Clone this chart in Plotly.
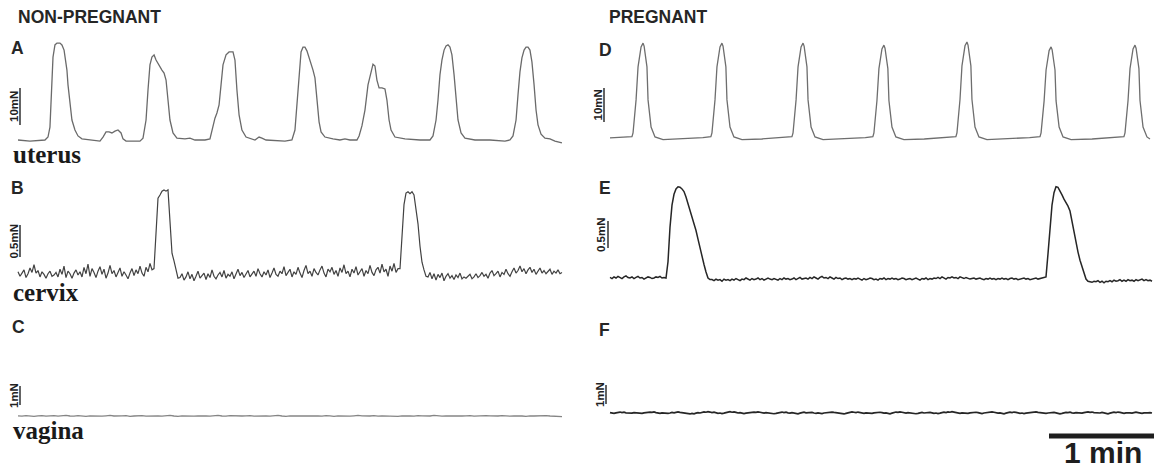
import numpy as np
import plotly.graph_objects as go

# ---------------- DATA (time in s, force in mN) ----------------
DT = 1.12
DT_C = 2.24    # coarser sampling for the flat vaginal trace (s)

# A: non-pregnant uterus (knots)
A_time = [0, 6.7, 15.1, 16.8, 17.9, 19.0, 19.6, 20.7, 21.8, 23.5, 24.6, 25.8, 26.9, 27.4, 28.0, 29.1,
          30.2, 31.9, 33.6, 35.8, 45.9, 47.6, 49.3, 51.0, 52.6, 54.3, 56.0, 57.7, 58.8, 60.5, 68.3,
          70.0, 71.7, 72.8, 73.9, 75.0, 76.2, 77.3, 79.0, 80.6, 81.8, 82.9, 84.0, 85.1, 86.8, 89.0,
          93.5, 96.3, 99.1, 104.7, 107.5, 109.2, 110.3, 111.4, 112.6, 113.7, 114.8, 116.5, 118.2,
          120.4, 121.5, 122.6, 123.8, 125.4, 127.7, 132.7, 135.0, 136.6, 138.9, 149.5, 153.4, 155.1,
          156.2, 157.4, 158.5, 159.6, 160.7, 161.8, 163.5, 165.2, 166.3, 167.4, 168.6, 169.7, 171.9,
          176.4, 180.3, 183.1, 185.9, 189.8, 191.0, 192.6, 194.3, 196.0, 197.7, 198.8, 199.9, 201.0,
          202.2, 203.8, 205.5, 206.6, 207.8, 208.9, 211.1, 216.7, 225.1, 230.7, 232.4, 234.1, 235.2,
          236.3, 237.4, 238.6, 239.7, 240.8, 241.9, 243.0, 244.2, 245.3, 246.4, 248.1, 250.3, 255.9,
          264.3, 272.7, 275.5, 277.2, 278.9, 280.0, 281.1, 282.2, 283.4, 284.5, 285.6, 286.7, 287.8,
          289.0, 290.1, 291.2, 292.9, 295.1, 297.9, 300.7, 304.6]
A_force = [0, -0.3, 0, 0.8, 3.5, 14.9, 22.4, 25.7, 26.2, 26.2, 25.7, 24.3, 21.1, 18.9, 14.9, 10.8,
           5.4, 2.7, 1.1, 0.3, -0.3, 0.8, 2.2, 2.2, 1.9, 2.4, 2.7, 1.9, 0.3, -0.3, -0.3,
           0.5, 5.4, 13.5, 20.3, 22.4, 23.0, 21.6, 20.0, 18.9, 18.1, 16.2, 10.8, 5.4, 1.9, 0.5,
           0.3, 0.5, 0, 0, 0.3, 4.1, 5.9, 7.3, 9.5, 14.9, 20.3, 23.0, 23.8,
           23.8, 21.6, 13.5, 6.8, 2.7, 0.8, 0, 0.8, 0.5, 0, -0.3, 0, 2.7,
           9.5, 17.6, 23.8, 25.1, 25.1, 24.1, 21.6, 18.9, 16.8, 10.8, 4.9, 2.2, 0.8,
           0.3, 0, 0.3, 0, 0, 1.1, 3.8, 8.1, 14.9, 18.9, 20.5, 20.0, 16.2,
           14.1, 14.1, 13.8, 10.8, 5.4, 2.7, 0.8, 0.3, 0, 0, 1.1, 5.4, 10.8,
           17.6, 21.6, 24.3, 25.4, 25.7, 25.1, 23.0, 17.6, 10.8, 5.4, 1.9, 0.5, 0,
           0, -0.3, 0, 1.1, 5.4, 12.2, 18.4, 22.2, 24.3, 25.1, 25.1, 24.3, 21.1,
           14.9, 8.1, 4.1, 1.6, 0.5, 0.3, -0.3, -0.8]

# B: non-pregnant cervix (sampled every DT)
B_noise_1 = [0.05, -0.02, 0.03, 0.08, -0.04, 0.02, 0.11, 0.04, 0.16, 0.03,
             0.07, -0.03, 0.05, 0.01, -0.05, 0.02, 0.06, -0.02, 0.00, 0.04,
             -0.03, 0.09, 0.01, 0.14, -0.04, 0.06, 0.02, -0.05, 0.03, 0.08,
             0.00, 0.05, -0.03, 0.12, 0.02, 0.17, -0.02, 0.10, 0.04, -0.04,
             0.06, 0.13, 0.01, 0.09, -0.05, 0.03, 0.15, 0.02, 0.07, -0.03,
             0.04, 0.11, -0.02, 0.05, 0.00, -0.06, 0.03, 0.10, -0.01, 0.08,
             0.02, 0.14, 0.03, -0.02, 0.12, 0.05, 0.18, 0.08]
B_peak_1 = [0.10, 0.70, 1.20, 1.25, 1.31, 1.33, 1.31, 1.33, 0.90, 0.34, 0.22, 0.10, -0.05]
B_noise_2 = [-0.04, 0.02, -0.08, -0.03, 0.05, -0.06, 0.01, -0.09, -0.02, 0.06,
             -0.05, -0.01, 0.03, -0.07, 0.02, -0.04, 0.08, -0.02, -0.06, 0.00,
             0.04, -0.03, 0.07, -0.05, 0.01, -0.02, 0.05, -0.06, 0.03, 0.09,
             -0.01, 0.04, -0.04, 0.02, 0.07, -0.03, 0.01, 0.06, -0.02, 0.10,
             0.02, -0.03, 0.05, 0.00, 0.08, -0.04, 0.03, 0.11, 0.01, -0.02,
             0.06, 0.02, 0.13, -0.01, 0.04, 0.09, -0.03, 0.05, 0.01, 0.12,
             0.03, -0.04, 0.07, 0.15, 0.02, 0.06, -0.02, 0.10, 0.04, 0.00,
             0.08, 0.14, 0.03, -0.03, 0.09, 0.05, 0.12, 0.01, 0.07, -0.02,
             0.11, 0.04, 0.16, 0.02, 0.06, -0.03, 0.09, 0.03, 0.13, 0.00,
             0.05, 0.10, -0.02, 0.07, 0.02, 0.15, 0.04, -0.01, 0.08, 0.12,
             0.03, 0.17, 0.05, 0.09, -0.02, 0.14, 0.06, 0.18, 0.04, 0.10]
B_peak_2 = [0.10, 0.60, 1.10, 1.28, 1.30, 1.27, 1.30, 1.25, 1.05, 0.80, 0.45, 0.20, 0.08, -0.02]
B_noise_3 = [-0.03, 0.04, -0.06, 0.02, -0.08, 0.01, -0.04, 0.03, -0.09, -0.02,
             0.02, -0.05, -0.01, -0.07, 0.00, -0.04, 0.03, -0.06, -0.03, -0.05,
             -0.02, 0.01, -0.06, -0.03, 0.02, -0.04, -0.01, 0.04, -0.02, 0.01,
             -0.05, 0.03, 0.07, -0.01, 0.02, 0.06, -0.03, 0.04, 0.01, 0.09,
             0.02, -0.02, 0.05, 0.11, 0.03, 0.07, 0.14, 0.05, 0.10, 0.02,
             0.08, 0.12, 0.04, 0.09, 0.01, 0.06, 0.11, 0.03, 0.07, 0.02,
             0.05, 0.09, 0.01, 0.06, 0.03, 0.08, 0.02, 0.04]

# C: non-pregnant vagina (sampled every DT_C)
C_force = [0.01, -0.01, 0.02, 0.00, -0.02, 0.01, 0.02, -0.01, 0.00, 0.02,
           -0.01, 0.01, 0.03, 0.00, -0.01, 0.02, 0.00, -0.02, 0.01, 0.00,
           0.02, -0.01, 0.01, 0.03, 0.00, -0.01, 0.01, 0.02, -0.02, 0.00,
           0.01, 0.02, -0.01, 0.00, 0.02, 0.01, -0.01, 0.01, 0.03, 0.00,
           -0.02, 0.01, 0.00, 0.02, -0.01, 0.01, 0.02, 0.00, -0.01, 0.01,
           0.03, 0.00, -0.01, 0.02, 0.01, -0.02, 0.00, 0.01, 0.02, -0.01,
           0.00, 0.02, 0.01, -0.01, 0.01, 0.03, 0.00, -0.02, 0.01, 0.00,
           0.02, -0.01, 0.00, 0.01, 0.02, 0.00, -0.01, 0.02, 0.01, -0.02,
           0.01, 0.00, 0.02, -0.01, 0.01, 0.03, 0.01, -0.01, 0.00, 0.02,
           -0.01, 0.01, 0.00, 0.02, 0.00, -0.02, 0.01, 0.02, 0.00, -0.01,
           0.02, 0.01, -0.01, 0.00, 0.03, 0.01, -0.01, 0.01, 0.00, 0.02,
           -0.02, 0.00, 0.01, 0.02, -0.01, 0.01, 0.00, 0.02, 0.01, -0.01,
           0.00, 0.02, 0.00, -0.01, 0.01, 0.02, 0.00, -0.02, 0.01, 0.00,
           0.01, -0.01, 0.02, 0.00, -0.01, -0.02, -0.03]

# D: pregnant uterus (knots)
D_time = [0, 12.3, 12.9, 14.6, 15.7, 17.4, 18.5, 19.1, 20.7, 21.3, 23.0, 25.2, 29.7, 41.0, 52.0,
          56.5, 57.1, 58.8, 59.9, 61.6, 62.7, 63.3, 64.9, 65.5, 67.2, 69.4, 73.9, 85.0, 97.0,
          101.9, 102.5, 104.2, 105.3, 107.0, 108.1, 108.7, 110.3, 110.9, 112.6, 114.8, 119.3, 131.0, 143.0,
          147.2, 147.8, 149.5, 150.6, 152.3, 153.4, 154.0, 155.6, 156.2, 157.9, 160.1, 164.6, 176.0, 188.0,
          193.7, 194.3, 196.0, 197.1, 198.8, 199.9, 200.5, 202.1, 202.7, 204.4, 206.6, 211.1, 223.0, 235.0,
          240.8, 241.4, 243.1, 244.2, 245.9, 247.0, 247.6, 249.2, 249.8, 251.5, 253.7, 258.2, 270.0, 282.0,
          287.8, 288.4, 290.1, 291.2, 292.9, 294.0, 294.6, 296.2, 296.8, 298.5, 300.7, 302.4]
D_force = [0.6, 1.0, 2.1, 11.8, 21.5, 27.4, 28.5, 27.6, 21.5, 11.8, 3.8, 0.9, 0.1, 0.3, 0.7,
           1.0, 2.1, 11.8, 21.5, 27.4, 28.5, 27.6, 21.5, 11.8, 3.8, 0.9, 0.1, 0.3, 0.7,
           1.0, 2.1, 11.8, 21.5, 27.4, 28.5, 27.6, 21.5, 11.8, 3.8, 0.9, 0.1, 0.3, 0.7,
           1.0, 2.1, 11.6, 21.0, 26.8, 27.9, 27.0, 21.0, 11.6, 3.8, 0.9, 0.1, 0.3, 0.7,
           1.0, 2.1, 11.9, 21.8, 27.7, 28.8, 27.9, 21.8, 11.9, 3.8, 0.9, 0.1, 0.3, 0.7,
           1.0, 2.1, 11.5, 20.6, 26.3, 27.4, 26.5, 20.6, 11.5, 3.8, 0.9, 0.1, 0.3, 0.7,
           1.0, 2.1, 11.6, 21.0, 26.8, 27.9, 27.0, 21.0, 11.6, 3.8, 0.9, 0.3]

# E: pregnant cervix (sampled every DT)
E_noise_1 = [0.01, -0.01, 0.02, 0.00, 0.03, 0.01, -0.01, 0.02, 0.04, 0.01,
             0.00, 0.02, -0.01, 0.01, 0.03, 0.00, 0.01, -0.02, 0.00, 0.02,
             0.01, -0.01, 0.00, 0.02, 0.01, 0.03, 0.00, 0.01]
E_peak_1 = [0.00, 0.30, 0.94, 1.35, 1.55, 1.65, 1.69, 1.68, 1.65, 1.60, 1.50, 1.38, 1.26, 1.13,
            1.00, 0.88, 0.72, 0.55, 0.40, 0.25, 0.11, 0.00, -0.03]
E_noise_2 = [-0.03, -0.05, -0.02, -0.04, -0.03, -0.06, -0.02, -0.04, -0.03, -0.05,
             -0.02, -0.04, -0.01, -0.03, -0.05, -0.02, -0.03, 0.00, -0.02, -0.04,
             -0.01, -0.03, -0.02, 0.00, -0.03, -0.01, -0.04, -0.02, 0.00, -0.02,
             -0.03, -0.01, -0.02, -0.04, -0.01, -0.03, 0.00, -0.02, -0.01, -0.03,
             -0.02, 0.00, -0.03, -0.01, 0.01, -0.02, -0.01, 0.00, -0.02, 0.01,
             -0.01, 0.02, 0.00, -0.02, 0.01, 0.03, 0.00, 0.01, -0.01, 0.02,
             0.00, -0.02, 0.01, -0.01, 0.00, -0.03, -0.01, 0.00, -0.02, -0.01,
             -0.03, -0.01, -0.02, 0.00, -0.02, -0.04, -0.01, -0.03, -0.02, 0.00,
             -0.01, -0.03, -0.02, -0.04, -0.01, -0.02, 0.00, -0.03, -0.01, -0.02,
             0.00, -0.02, -0.01, -0.03, -0.02, 0.00, -0.01, -0.03, -0.02, -0.01,
             -0.03, -0.01, 0.00, -0.02, -0.04, -0.01, -0.02, 0.00, -0.03, -0.01,
             -0.02, 0.00, -0.01, 0.01, -0.01, 0.02, 0.00, -0.02, 0.01, 0.00,
             0.02, 0.00, 0.01, -0.01, 0.02, 0.00, -0.01, 0.01, 0.00, -0.02,
             -0.01, 0.00, -0.02, -0.01, 0.00, -0.02, -0.03, -0.01, -0.02, 0.00,
             -0.02, -0.01, -0.03, -0.01, -0.02, 0.00, -0.02, -0.01, -0.03, -0.01,
             0.00, -0.02, -0.01, -0.03, -0.02, -0.01, 0.00, -0.02, -0.01, -0.03,
             -0.02, -0.01, 0.00, -0.02, -0.01, 0.00, 0.01]
E_peak_2 = [0.02, 0.45, 0.94, 1.35, 1.58, 1.69, 1.68, 1.62, 1.54, 1.46, 1.40, 1.33, 1.24, 1.05,
            0.82, 0.62, 0.48, 0.33, 0.20, 0.06, -0.02, -0.06, -0.07]
E_noise_3 = [-0.08, -0.06, -0.07, -0.05, -0.08, -0.06, -0.09, -0.06, -0.07, -0.05,
             -0.07, -0.04, -0.06, -0.05, -0.03, -0.06, -0.04, -0.06, -0.03, -0.05,
             -0.04, -0.06, -0.03, -0.05, -0.04, -0.02, -0.05, -0.03, -0.05, -0.04, -0.06]

# F: pregnant vagina (sampled every DT)
F_force = [0.02, 0.00, -0.02, 0.01, 0.03, 0.05, 0.02, 0.04, 0.01, -0.01,
           -0.03, -0.01, 0.02, 0.00, -0.02, -0.04, -0.02, 0.01, 0.03, 0.02,
           0.05, 0.03, 0.06, 0.02, 0.00, -0.02, 0.01, -0.01, -0.04, -0.02,
           0.00, 0.03, 0.01, 0.04, 0.06, 0.03, 0.01, -0.02, 0.00, -0.03,
           -0.05, -0.02, -0.04, -0.01, 0.02, 0.00, 0.03, 0.06, 0.04, 0.07,
           0.05, 0.02, 0.04, 0.01, -0.02, 0.00, -0.03, -0.01, 0.02, 0.04,
           0.07, 0.04, 0.06, 0.03, 0.00, 0.02, -0.01, -0.03, -0.01, 0.01,
           0.04, 0.02, 0.05, 0.03, 0.06, 0.04, 0.01, -0.01, 0.02, 0.00,
           -0.03, -0.01, -0.04, -0.02, 0.01, 0.03, 0.05, 0.02, 0.04, 0.01,
           -0.01, 0.02, 0.00, -0.02, -0.04, -0.01, 0.02, 0.04, 0.01, 0.03,
           0.05, 0.03, 0.00, -0.02, 0.01, -0.01, -0.03, 0.00, 0.02, 0.04,
           0.02, 0.05, 0.03, 0.01, -0.02, 0.00, -0.03, -0.05, -0.02, 0.01,
           0.03, 0.06, 0.04, 0.02, 0.05, 0.03, 0.00, -0.02, 0.01, -0.01,
           -0.04, -0.02, 0.01, 0.03, 0.01, 0.04, 0.02, -0.01, 0.01, -0.02,
           -0.04, -0.01, 0.02, 0.05, 0.03, 0.06, 0.04, 0.01, -0.01, 0.02,
           0.00, -0.03, -0.01, -0.04, -0.02, 0.01, 0.03, 0.00, 0.02, 0.05,
           0.03, 0.01, -0.02, 0.00, -0.03, -0.01, 0.02, 0.04, 0.02, 0.06,
           0.04, 0.07, 0.05, 0.02, 0.00, -0.02, 0.01, -0.01, -0.04, -0.02,
           0.01, 0.03, 0.01, 0.04, 0.02, -0.01, -0.03, 0.00, 0.02, 0.05,
           0.03, 0.06, 0.04, 0.01, -0.01, 0.01, -0.02, -0.04, -0.01, 0.02,
           0.04, 0.02, 0.05, 0.03, 0.00, -0.02, 0.00, -0.03, -0.01, 0.01,
           0.03, 0.01, 0.04, 0.06, 0.03, 0.01, -0.01, 0.01, -0.02, 0.00,
           0.02, 0.05, 0.03, 0.01, -0.02, -0.04, -0.02, 0.01, 0.03, 0.02,
           0.04, 0.01, -0.01, 0.02, 0.00, -0.03, -0.01, 0.02, 0.04, 0.06,
           0.03, 0.05, 0.02, 0.00, -0.02, 0.00, 0.03, 0.01, -0.02, -0.04,
           -0.01, 0.02, 0.04, 0.02, 0.05, 0.03, 0.00, -0.02, 0.01, 0.03,
           0.01, -0.01, 0.02, 0.04, 0.02, 0.00, -0.02, 0.01, 0.03, 0.01,
           0.02, 0.00]

SCALE_LABELS = ["10mN", "0.5mN", "1mN", "10mN", "0.5mN", "1mN"]
SCALE_AMPS = [10, 0.5, 1, 10, 0.5, 1]
PANEL_LETTERS = ["A", "B", "C", "D", "E", "F"]
ORGANS = ["uterus", "cervix", "vagina"]
TIME_BAR_S = 60

# ---------------- assemble series ----------------
B_force = B_noise_1 + B_peak_1 + B_noise_2 + B_peak_2 + B_noise_3
E_force = E_noise_1 + E_peak_1 + E_noise_2 + E_peak_2 + E_noise_3
B_time = np.arange(len(B_force)) * DT
C_time = np.arange(len(C_force)) * DT_C
E_time = np.arange(len(E_force)) * DT
F_time = np.arange(len(F_force)) * DT

series = [(A_time, A_force), (B_time, B_force), (C_time, C_force),
          (D_time, D_force), (E_time, E_force), (F_time, F_force)]

# ---------------- layout geometry (pixels) ----------------
W, H = 1154, 471
SPX = 0.56  # seconds per pixel
cols = [dict(d0=0, d1=577, t0px=18), dict(d0=577, d1=W, t0px=610)]
# baseline px, px per mN, band top, band bottom
rows = [
    dict(base=140, ppu=3.7, top=25, bot=165),
    dict(base=275, ppu=64, top=165, bot=310),
    dict(base=416, ppu=19, top=310, bot=462),
    dict(base=140, ppu=3.4, top=25, bot=165),
    dict(base=278, ppu=54, top=165, bot=310),
    dict(base=413, ppu=19, top=310, bot=462),
]
# scale bar pixel positions (x px, bottom px)
bars = [(20, 125), (20, 257), (20, 405), (604, 122), (608, 248), (606, 404)]
colors = ["#6a6a6a", "#424242", "#858585", "#6e6e6e", "#262626", "#262626"]
widths = [1.3, 1.2, 1.3, 1.3, 1.5, 1.7]

fig = go.Figure()
layout = dict(width=W, height=H, margin=dict(l=0, r=0, t=0, b=0),
              paper_bgcolor="white", plot_bgcolor="rgba(0,0,0,0)", showlegend=False)
annotations = []

def px2x(p):
    return p / W

def px2y(p):
    return 1 - p / H

for i, ((t, f), r) in enumerate(zip(series, rows)):
    c = cols[0] if i < 3 else cols[1]
    n = "" if i == 0 else str(i + 1)
    xr = [(c["d0"] - c["t0px"]) * SPX, (c["d1"] - c["t0px"]) * SPX]
    yr = [(r["base"] - r["bot"]) / r["ppu"], (r["base"] - r["top"]) / r["ppu"]]
    layout["xaxis" + n] = dict(domain=[c["d0"] / W, c["d1"] / W], range=xr, visible=False,
                               fixedrange=True, anchor="y" + n)
    layout["yaxis" + n] = dict(domain=[px2y(r["bot"]), px2y(r["top"])], range=yr, visible=False,
                               fixedrange=True, anchor="x" + n)
    fig.add_trace(go.Scatter(x=t, y=f, mode="lines", xaxis="x" + n, yaxis="y" + n,
                             line=dict(color=colors[i], width=widths[i]), hoverinfo="skip"))
    # scale bar
    bx_px, bb_px = bars[i]
    bx = (bx_px - c["t0px"]) * SPX
    y0 = (r["base"] - bb_px) / r["ppu"]
    fig.add_trace(go.Scatter(x=[bx, bx], y=[y0, y0 + SCALE_AMPS[i]], mode="lines",
                             xaxis="x" + n, yaxis="y" + n,
                             line=dict(color="#222222", width=1.4), hoverinfo="skip"))
    annotations.append(dict(x=bx, y=y0 + SCALE_AMPS[i] / 2, xref="x" + n, yref="y" + n,
                            text="<b>" + SCALE_LABELS[i] + "</b>", textangle=-90,
                            showarrow=False, xanchor="center", yanchor="middle", xshift=-6.5,
                            font=dict(family="Liberation Sans, Arial", size=11.5, color="#222222")))

# 1-min time bar in panel F
cF, rF = cols[1], rows[5]
tb0 = (1049 - cF["t0px"]) * SPX
yb = (rF["base"] - 436) / rF["ppu"]
fig.add_trace(go.Scatter(x=[tb0, tb0 + TIME_BAR_S], y=[yb, yb], mode="lines", xaxis="x6", yaxis="y6",
                         line=dict(color="#1e1e1e", width=5), hoverinfo="skip"))

sans = "Liberation Sans, Arial, sans-serif"
serif = "Liberation Serif, Times New Roman, serif"

def txt(text, xp, yp, size, family, xanchor="left", color="#262626"):
    annotations.append(dict(x=px2x(xp), y=px2y(yp), xref="paper", yref="paper", text=text,
                            showarrow=False, xanchor=xanchor, yanchor="middle",
                            font=dict(family=family, size=size, color=color)))

txt("<b>NON-PREGNANT</b>", 16, 17, 17.5, sans)
txt("<b>PREGNANT</b>", 607, 17, 17.5, sans)
letter_pos = [(9, 48), (9, 188), (10, 327), (597, 50), (597, 188), (597, 330)]
for L, (xp, yp) in zip(PANEL_LETTERS, letter_pos):
    txt("<b>" + L + "</b>", xp, yp, 17.5, sans)
organ_pos = [(11, 155), (11, 292), (11, 430)]
for o, (xp, yp) in zip(ORGANS, organ_pos):
    txt("<b>" + o + "</b>", xp, yp, 25, serif, color="#1a1a1a")
txt("<b>1 min</b>", 1103, 452, 30, sans, xanchor="center", color="#1e1e1e")

layout["annotations"] = annotations
fig.update_layout(**layout)
fig.write_html("out.html")
